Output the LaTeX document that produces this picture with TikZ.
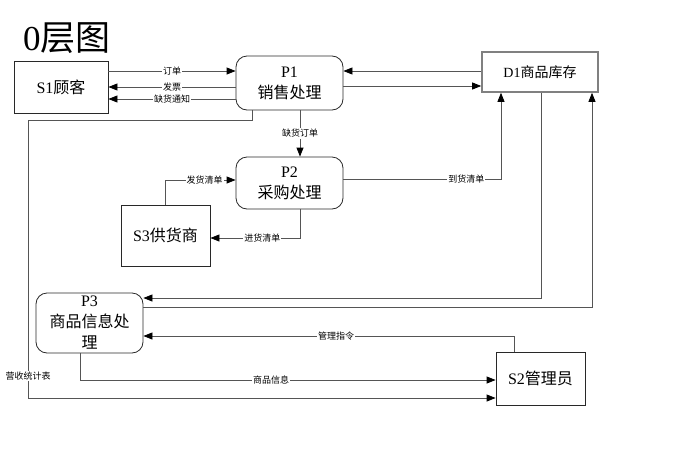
\documentclass[tikz,border=0pt]{standalone}
\usepackage{fontspec}
\setmainfont{Liberation Serif}
\newfontfamily\cjk{Noto Sans CJK SC}
\definecolor{flowgray}{RGB}{85, 85, 85}
\definecolor{storegray}{RGB}{128, 128, 128}
\definecolor{boxline}{RGB}{40, 40, 40}
\usetikzlibrary{arrows.meta, positioning}

\begin{document}
\begin{tikzpicture}[x=1pt, y=-1pt, >={Triangle[length=9pt,width=7pt,color=black]},
    entity/.style={rectangle, draw=boxline, line width=0.8pt, inner sep=0pt, font=\fontsize{16}{19}\selectfont},
    process/.style={rectangle, draw=boxline, line width=0.8pt, rounded corners=11pt, inner sep=0pt, align=center, font=\fontsize{16}{21}\selectfont},
    store/.style={rectangle, draw=storegray, line width=1.6pt, inner sep=0pt, font=\fontsize{14}{17}\selectfont},
    flow/.style={->, draw=flowgray, line width=0.8pt},
    flowlabel/.style={fill=white, inner sep=1pt, font=\cjk\fontsize{9}{10}\selectfont}]
      \useasboundingbox (0,0) rectangle (696,453);
      \node (title) at (67,38) [font=\fontsize{35}{38}\selectfont] {0\cjk 层图};

      \node (S1) at (61,87) [entity, minimum width=94pt, minimum height=52pt] {S1\cjk 顾客};
      \node (P1) at (289.5,83) [process, minimum width=107pt, minimum height=54pt] {P1\\\cjk 销售处理};
      \node (D1) at (540,72) [store, minimum width=116pt, minimum height=40pt] {D1\cjk 商品库存\hspace{10pt}};
      \node (P2) at (289.5,183) [process, minimum width=107pt, minimum height=52pt] {P2\\\cjk 采购处理};
      \node (S3) at (165.5,235.5) [entity, minimum width=89pt, minimum height=61pt] {S3\cjk 供货商};
      \node (P3) at (89.5,323) [process, minimum width=107pt, minimum height=60pt] {P3\\\cjk 商品信息处\\\cjk 理};
      \node (S2) at (540.5,378.5) [entity, minimum width=89pt, minimum height=53pt] {S2\cjk 管理员};
      \coordinate (rvL) at (28,120);

      \draw[flow] ([yshift=16pt]S1.east) -- node[flowlabel] {订单} ([yshift=12pt]P1.west);
      \draw[flow] ([yshift=-4pt]P1.west) -- node[flowlabel] {发票} (S1.east);
      \draw[flow] ([yshift=-16pt]P1.west) -- node[flowlabel] {缺货通知} ([yshift=-12pt]S1.east);
      \draw[flow] ([yshift=1pt]D1.west) -- ([yshift=12pt]P1.east);
      \draw[flow] ([yshift=-3pt]P1.east) -- ([yshift=-14pt]D1.west);
      \draw[flow] ([xshift=10.5pt]P1.south) -- node[flowlabel] {缺货订单} ([xshift=10.5pt]P2.north);
      \draw[flow] ([xshift=-37.5pt]P1.south) |- (rvL) |- node[flowlabel, pos=0.46] {营收统计表} ([yshift=-19.5pt]S2.west);
      \draw[flow] ([yshift=4pt]P2.east) -| node[flowlabel, pos=0.39] {到货清单} ([xshift=-39pt]D1.south);
      \draw[flow] ([xshift=-0.5pt]S3.north) |- node[flowlabel, pos=0.78] {发货清单} ([yshift=3pt]P2.west);
      \draw[flow] ([xshift=10.5pt]P2.south) |- node[flowlabel, pos=0.71] {进货清单} ([yshift=-2.5pt]S3.east);
      \draw[flow] ([xshift=1pt]D1.south) |- ([yshift=25pt]P3.east);
      \draw[flow] ([yshift=16pt]P3.east) -| ([xshift=52pt]D1.south);
      \draw[flow] ([xshift=-26.5pt]S2.north) |- node[flowlabel, pos=0.74] {管理指令} ([yshift=-13pt]P3.east);
      \draw[flow] ([xshift=-9.5pt]P3.south) |- node[flowlabel, pos=0.73] {商品信息} ([yshift=-1.5pt]S2.west);
    \end{tikzpicture}
\end{document}
